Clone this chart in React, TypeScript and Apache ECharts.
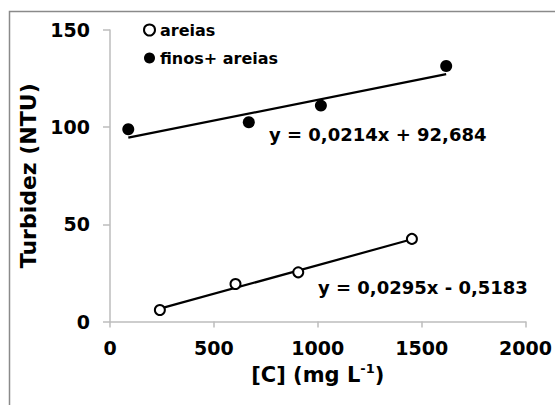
import React, { useEffect, useRef } from "react";
import * as echarts from "echarts";

// Data
const areiasX = [240, 604, 906, 1453];
const areiasY = [5.9, 19.3, 25.3, 42.5];
const finosX = [88, 668, 1015, 1618];
const finosY = [98.9, 102.5, 111.1, 131.5];
// Trendline endpoints (as drawn)
const trendAreiasX = [240, 1453];
const trendAreiasY = [6.6, 42.3];
const trendFinosX = [88, 1618];
const trendFinosY = [94.6, 127.3];
const xTicks = [0, 500, 1000, 1500, 2000];
const yTicks = [0, 50, 100, 150];
const seriesNames = ["areias", "finos+ areias"];
const equations = ["y = 0,0214x + 92,684", "y = 0,0295x - 0,5183"];

const FONT = "'DejaVu Sans', Arial, sans-serif";

export default function App() {
  const ref = useRef<HTMLDivElement>(null);
  useEffect(() => {
    if (!ref.current) return;
    const chart = echarts.init(ref.current, null, { renderer: "svg" });
    const pair = (xs: number[], ys: number[]) => xs.map((x, i) => [x, ys[i]]);
    chart.setOption({
      animation: false,
      backgroundColor: "#fff",
      grid: { left: 110, right: 28, top: 30, bottom: 83.5, containLabel: false },
      legend: {
        data: seriesNames,
        orient: "vertical",
        left: 138,
        top: 17,
        itemWidth: 11,
        itemHeight: 11,
        itemGap: 12,
        selectedMode: false,
        textStyle: { fontFamily: FONT, fontWeight: "bold", fontSize: 16, color: "#000", lineHeight: 16 },
      },
      xAxis: {
        type: "value",
        min: xTicks[0],
        max: xTicks[xTicks.length - 1],
        interval: xTicks[1] - xTicks[0],
        name: "[C] (mg L{sup|-1})",
        nameLocation: "middle",
        nameGap: 40,
        nameTextStyle: {
          fontFamily: FONT,
          fontWeight: "bold",
          fontSize: 21,
          color: "#000",
          lineHeight: 26,
          rich: {
            sup: { fontFamily: FONT, fontWeight: "bold", fontSize: 13, color: "#000", verticalAlign: "top", lineHeight: 14 },
          },
        },
        axisLine: { show: true, lineStyle: { color: "#bdbdbd", width: 1.5 } },
        axisTick: { show: true, inside: false, length: 6, lineStyle: { color: "#bdbdbd", width: 1.5 } },
        axisLabel: {
          fontFamily: FONT,
          fontWeight: "bold",
          fontSize: 19,
          color: "#000",
          margin: 17,
          formatter: (v: number) => String(v),
        },
        splitLine: { show: false },
      },
      yAxis: {
        type: "value",
        min: yTicks[0],
        max: yTicks[yTicks.length - 1],
        interval: yTicks[1] - yTicks[0],
        name: "Turbidez (NTU)",
        nameLocation: "middle",
        nameGap: 69,
        nameTextStyle: { fontFamily: FONT, fontWeight: "bold", fontSize: 22, color: "#000" },
        axisLine: { show: true, lineStyle: { color: "#bdbdbd", width: 1.5 } },
        axisTick: { show: true, inside: false, length: 7, lineStyle: { color: "#bdbdbd", width: 1.5 } },
        axisLabel: {
          fontFamily: FONT,
          fontWeight: "bold",
          fontSize: 19,
          color: "#000",
          margin: 20,
          formatter: (v: number) => String(v),
        },
        splitLine: { show: false },
      },
      graphic: [
        {
          type: "rect",
          silent: true,
          shape: { x: 9.5, y: 11.5, width: 600, height: 500 },
          style: { fill: "none", stroke: "#8a8a8a", lineWidth: 1.5 },
        },
        {
          type: "text",
          x: 269,
          y: 134,
          style: { text: equations[0], fontFamily: FONT, fontWeight: "bold", fontSize: 18, fill: "#000", verticalAlign: "middle" },
        },
        {
          type: "text",
          x: 318,
          y: 287,
          style: { text: equations[1], fontFamily: FONT, fontWeight: "bold", fontSize: 18, fill: "#000", verticalAlign: "middle" },
        },
      ],
      series: [
        {
          type: "line",
          data: pair(trendAreiasX, trendAreiasY),
          showSymbol: false,
          symbol: "none",
          silent: true,
          lineStyle: { color: "#000", width: 2.2 },
          z: 2,
        },
        {
          type: "line",
          data: pair(trendFinosX, trendFinosY),
          showSymbol: false,
          symbol: "none",
          silent: true,
          lineStyle: { color: "#000", width: 2.2 },
          z: 2,
        },
        {
          type: "scatter",
          name: seriesNames[0],
          data: pair(areiasX, areiasY),
          symbol: "emptyCircle",
          symbolSize: 10,
          itemStyle: { color: "#000", borderColor: "#000", borderWidth: 2.4, opacity: 1 },
          z: 3,
        },
        {
          type: "scatter",
          name: seriesNames[1],
          data: pair(finosX, finosY),
          symbol: "circle",
          symbolSize: 12,
          itemStyle: { color: "#000", opacity: 1 },
          z: 3,
        },
      ],
    });
    return () => chart.dispose();
  }, []);
  return (
    <div
      ref={ref}
      style={{ position: "fixed", left: 0, top: 0, width: 555, height: 405, background: "#fff" }}
    />
  );
}
